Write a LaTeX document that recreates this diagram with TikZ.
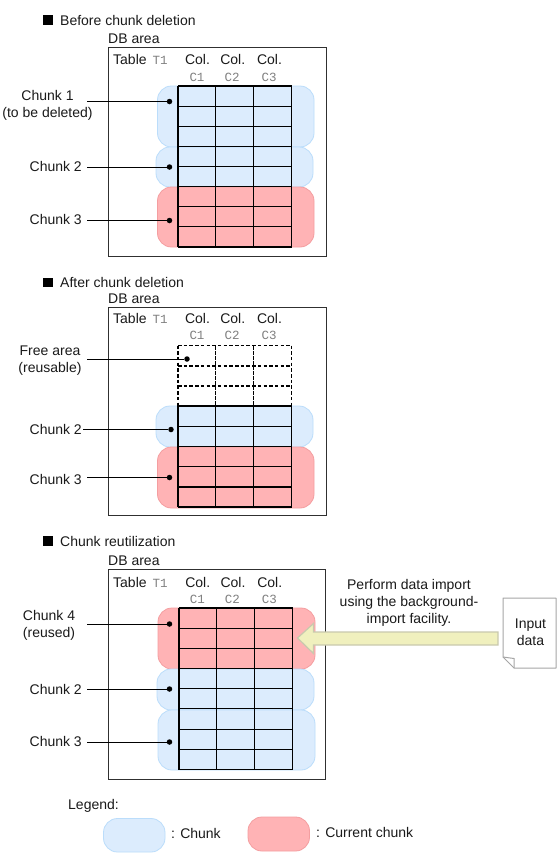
\documentclass[tikz,border=0pt]{standalone}
\usepackage{fontspec}
\setmainfont{Liberation Sans}
\setmonofont{Liberation Mono}
\definecolor{cblue}{HTML}{DCECFD}
\definecolor{cblueb}{HTML}{BBDDFB}
\definecolor{cred}{HTML}{FFB3B5}
\definecolor{credb}{HTML}{F49EA0}
\definecolor{carrow}{HTML}{F0F0BE}
\definecolor{carrowb}{HTML}{C9C9AE}
\definecolor{cframe}{HTML}{303030}
\definecolor{cmono}{HTML}{808080}
\definecolor{ctxt}{HTML}{1A1A1A}
\tikzset{
  txt/.style={inner sep=0pt,font=\fontsize{14}{17}\selectfont,text=ctxt,align=center},
  mono/.style={inner sep=0pt,font=\ttfamily\fontsize{12.5}{14}\selectfont,text=cmono},
  frame/.style={draw=cframe,line width=1pt,fill=white},
  bluechunk/.style={draw=cblueb,line width=.8pt,fill=cblue,rounded corners=14pt},
  redchunk/.style={draw=credb,line width=.8pt,fill=cred,rounded corners=14pt},
  gridline/.style={draw=black,line width=1.1pt},
  freeline/.style={draw=black,line width=1.1pt,dash pattern=on 3.5pt off 2.2pt},
  freeinner/.style={draw=black,line width=1.1pt,dash pattern=on 2pt off .5pt},
  dotnode/.style={circle,fill=black,inner sep=0pt,minimum size=5.5pt},
  leader/.style={draw=black,line width=1pt},
  bullet/.style={fill=black,inner sep=0pt,minimum size=9.5pt},
}
\newcommand{\tablehead}[4]{% x-shift, Col y, C y, name
  \node[txt,anchor=west] (#4tab) at (113,#2) {Table};
  \node[mono,anchor=west] (#4t) at (152.5,#2+1) {T1};
  \node[txt] (#4ca) at (197.5+#1,#2) {Col.};
  \node[txt] (#4cb) at (232.7+#1,#2) {Col.};
  \node[txt] (#4cc) at (269.5+#1,#2) {Col.};
  \node[mono] (#4ma) at (197+#1,#3) {C1};
  \node[mono] (#4mb) at (232+#1,#3) {C2};
  \node[mono] (#4mc) at (269+#1,#3) {C3};
}
\newcommand{\gridcells}[3]{% x-shift, first line y, last line y
  \foreach \yy in {0,...,8}{
    \draw[gridline] (178+#1,{#2+(#3-#2)*\yy/8}) -- (291.5+#1,{#2+(#3-#2)*\yy/8});
  }
  \foreach \xx in {178,215.7,253.5,291.5}{
    \draw[gridline] (\xx+#1,#2) -- (\xx+#1,#3);
  }
}
\begin{document}
\begin{tikzpicture}[x=1pt,y=-1pt]
\useasboundingbox (0,0) rectangle (560,855);
\fill[white] (0,0) rectangle (560,855);

% ---- Panel 1
\node[bullet] (b1) at (48.2,20) {};
\node[txt,anchor=west] (h1) at (60,20) {Before chunk deletion};
\node[txt,anchor=west] (db1) at (108,39) {DB area};
\draw[frame] (108,47) rectangle (326,256);
\tablehead{0}{59}{77}{pa}
\draw[bluechunk] (157.5,86) rectangle (314,147);
\draw[bluechunk] (156,147) rectangle (313,187);
\draw[redchunk] (157.5,187) rectangle (314,247);
\gridcells{0}{86}{247}
\node[txt] (a1) at (47.5,105) {Chunk 1\\(to be deleted)};
\node[txt,anchor=east] (a2) at (82,166.5) {Chunk 2};
\node[txt,anchor=east] (a3) at (82,219.5) {Chunk 3};
\node[dotnode] (da1) at (169.5,101.5) {};
\node[dotnode] (da2) at (169.5,167) {};
\node[dotnode] (da3) at (169.5,220.5) {};
\coordinate (sa1) at (87,101.5);
\coordinate (sa2) at (87,167);
\coordinate (sa3) at (87,220.5);
\draw[leader] (sa1) -- (da1);
\draw[leader] (sa2) -- (da2);
\draw[leader] (sa3) -- (da3);

% ---- Panel 2
\node[bullet] (b2) at (48.2,282.5) {};
\node[txt,anchor=west] (h2) at (60,282) {After chunk deletion};
\node[txt,anchor=west] (db2) at (108,299) {DB area};
\draw[frame] (108,307) rectangle (326,515.5);
\tablehead{0}{318}{335}{pb}
\draw[bluechunk] (156,406) rectangle (313,447);
\draw[redchunk] (157.5,447) rectangle (314,508);
% free part
\foreach \yy in {345.5,366,386}{
  \draw[freeline] (178,\yy) -- (291.5,\yy);
}
\foreach \xx in {178,291.5}{
  \draw[freeline] (\xx,345.5) -- (\xx,406);
}
\foreach \xx in {215.7,253.5}{
  \draw[freeinner] (\xx,345.5) -- (\xx,406);
}
% used part
\foreach \yy in {406,426.3,446.5,466.7,487,507}{
  \draw[gridline] (178,\yy) -- (291.5,\yy);
}
\foreach \xx in {178,215.7,253.5,291.5}{
  \draw[gridline] (\xx,406) -- (\xx,507);
}
\node[txt] (b0) at (50,360.5) {Free area\\(reusable)};
\node[txt,anchor=east] (bb2) at (82,429) {Chunk 2};
\node[txt,anchor=east] (bb3) at (82,479) {Chunk 3};
\node[dotnode] (db0) at (187,359) {};
\node[dotnode] (db22) at (171,429.5) {};
\node[dotnode] (db3) at (169.5,477.5) {};
\coordinate (sb0) at (87,359);
\coordinate (sb2) at (83,429.5);
\coordinate (sb3) at (87,477.5);
\draw[leader] (sb0) -- (db0);
\draw[leader] (sb2) -- (db22);
\draw[leader] (sb3) -- (db3);

% ---- Panel 3
\node[bullet] (b3) at (48.2,541) {};
\node[txt,anchor=west] (h3) at (60,541) {Chunk reutilization};
\node[txt,anchor=west] (db3t) at (108,561) {DB area};
\draw[frame] (108.5,569) rectangle (325.5,779);
\tablehead{0.3}{582}{599.5}{pc}
\draw[redchunk] (158,608) rectangle (315,669);
\draw[bluechunk] (157,669) rectangle (314,710);
\draw[bluechunk] (158,710) rectangle (315,770);
\gridcells{1}{608}{769.5}
\node[txt] (c4) at (49,625.5) {Chunk 4\\(reused)};
\node[txt,anchor=east] (c2) at (82,689) {Chunk 2};
\node[txt,anchor=east] (c3) at (82,741.5) {Chunk 3};
\node[dotnode] (dc4) at (169.5,624) {};
\node[dotnode] (dc2) at (169.5,689) {};
\node[dotnode] (dc3) at (169.5,742) {};
\coordinate (sc4) at (87,624);
\coordinate (sc2) at (87,689);
\coordinate (sc3) at (87,742);
\draw[leader] (sc4) -- (dc4);
\draw[leader] (sc2) -- (dc2);
\draw[leader] (sc3) -- (dc3);

% import arrow and input document
\node[txt] (imp) at (409,603) {Perform data import\\using the background-\\import facility.};
\draw[draw=carrowb,line width=1.2pt,fill=carrow,line join=miter]
  (297.5,638) -- (313.5,623.5) -- (313.5,632) -- (498,632) -- (498,645) -- (313.5,645) -- (313.5,653.5) -- cycle;
\draw[draw=cmono!70,line width=1pt,fill=white,line join=round]
  (503,598) -- (556,598) -- (556,668) -- (514,668) -- (503,657) -- cycle;
\draw[draw=cmono!70,line width=1pt] (503,657) -- (514,658.5) -- (514,668);
\node[txt] (inp) at (530.5,632.5) {Input\\data};

% legend
\node[txt,anchor=west] (leg) at (68,805.5) {Legend:};
\draw[bluechunk] (103.5,818.5) rectangle (165,852);
\draw[redchunk] (248,817) rectangle (309.5,851);
\node[txt,anchor=west] (lb) at (171,833.5) {: Chunk};
\node[txt,anchor=west] (lr) at (316,832) {: Current chunk};
\end{tikzpicture}
\end{document}
